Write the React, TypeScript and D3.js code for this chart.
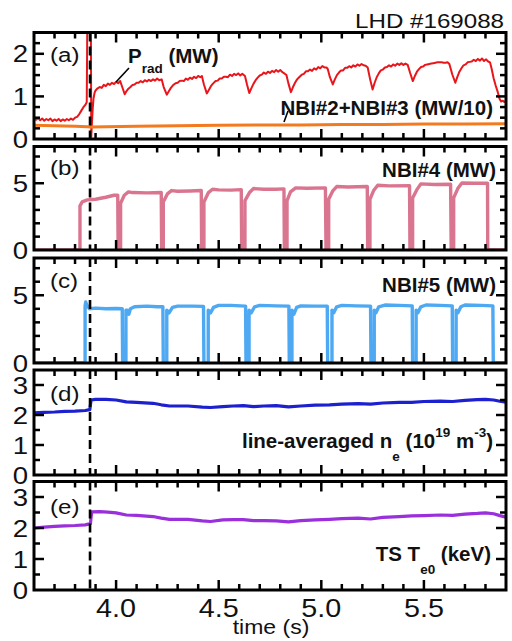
import * as d3 from 'd3';
import React from 'react';

// time axis
const timeDomain: [number, number] = [3.6, 5.9];
const xMajorTicks = [4.0, 4.5, 5.0, 5.5];
const xTickLabels = ['4.0', '4.5', '5.0', '5.5'];
const dashTime = 3.873;
const panelLabels = ['(a)', '(b)', '(c)', '(d)', '(e)'];

// (a) radiated power (MW)
const pradSeries: [number, number][] = [
  [3.600, 0.50], [3.610, 0.45], [3.620, 0.49], [3.630, 0.44], [3.640, 0.48], [3.650, 0.43], [3.660, 0.47],
  [3.670, 0.44], [3.680, 0.48], [3.690, 0.42], [3.700, 0.46], [3.710, 0.43], [3.720, 0.47], [3.730, 0.42],
  [3.740, 0.46], [3.750, 0.43], [3.760, 0.47], [3.770, 0.44], [3.780, 0.48], [3.790, 0.45], [3.800, 0.50],
  [3.810, 0.52], [3.820, 0.58], [3.830, 0.66], [3.840, 0.74], [3.850, 0.80], [3.857, 0.86], [3.860, 2.9],
  [3.877, 2.9], [3.879, 0.05], [3.882, 0.35], [3.886, 0.70], [3.890, 0.95], [3.895, 1.08], [3.900, 1.14],
  [3.910, 1.19], [3.920, 1.22], [3.930, 1.20], [3.940, 1.27], [3.950, 1.24], [3.960, 1.30], [3.970, 1.27],
  [3.980, 1.32], [3.990, 1.29], [4.000, 1.34], [4.010, 1.31], [4.020, 1.36], [4.030, 1.22], [4.042, 1.05],
  [4.050, 1.12], [4.060, 1.18], [4.070, 1.22], [4.080, 1.27], [4.090, 1.28], [4.100, 1.32], [4.110, 1.32],
  [4.120, 1.36], [4.130, 1.33], [4.140, 1.38], [4.150, 1.35], [4.160, 1.39], [4.170, 1.36], [4.180, 1.40],
  [4.190, 1.37], [4.200, 1.42], [4.210, 1.38], [4.222, 1.40], [4.232, 1.22], [4.247, 1.04], [4.257, 1.12],
  [4.267, 1.20], [4.277, 1.26], [4.290, 1.31], [4.300, 1.32], [4.310, 1.36], [4.320, 1.37], [4.330, 1.36],
  [4.340, 1.42], [4.350, 1.39], [4.360, 1.44], [4.370, 1.41], [4.380, 1.46], [4.390, 1.43], [4.400, 1.48],
  [4.410, 1.45], [4.418, 1.48], [4.428, 1.28], [4.442, 1.07], [4.452, 1.15], [4.462, 1.24], [4.472, 1.30],
  [4.485, 1.36], [4.495, 1.37], [4.505, 1.42], [4.515, 1.42], [4.525, 1.46], [4.535, 1.46], [4.545, 1.45],
  [4.555, 1.51], [4.565, 1.48], [4.575, 1.53], [4.585, 1.50], [4.595, 1.54], [4.605, 1.49], [4.615, 1.53],
  [4.628, 1.48], [4.638, 1.28], [4.649, 1.08], [4.660, 1.20], [4.670, 1.30], [4.680, 1.38], [4.690, 1.44],
  [4.700, 1.49], [4.710, 1.51], [4.720, 1.56], [4.730, 1.53], [4.740, 1.58], [4.750, 1.55], [4.760, 1.60],
  [4.770, 1.57], [4.780, 1.62], [4.790, 1.58], [4.800, 1.62], [4.810, 1.57], [4.820, 1.54], [4.830, 1.50],
  [4.840, 1.30], [4.852, 1.10], [4.862, 1.22], [4.872, 1.32], [4.882, 1.40], [4.892, 1.45], [4.905, 1.51],
  [4.915, 1.53], [4.925, 1.59], [4.935, 1.59], [4.945, 1.63], [4.955, 1.60], [4.965, 1.66], [4.975, 1.63],
  [4.985, 1.69], [4.995, 1.66], [5.005, 1.71], [5.015, 1.68], [5.025, 1.68], [5.031, 1.65], [5.042, 1.45],
  [5.056, 1.28], [5.066, 1.40], [5.076, 1.50], [5.086, 1.56], [5.096, 1.61], [5.106, 1.61], [5.116, 1.67],
  [5.126, 1.67], [5.136, 1.71], [5.146, 1.68], [5.156, 1.73], [5.166, 1.70], [5.176, 1.75], [5.186, 1.72],
  [5.196, 1.76], [5.206, 1.73], [5.216, 1.72], [5.226, 1.68], [5.238, 1.40], [5.250, 1.16], [5.260, 1.32],
  [5.270, 1.45], [5.280, 1.54], [5.290, 1.61], [5.300, 1.63], [5.310, 1.68], [5.320, 1.69], [5.330, 1.73],
  [5.340, 1.70], [5.350, 1.75], [5.360, 1.72], [5.370, 1.77], [5.380, 1.74], [5.390, 1.78], [5.400, 1.74],
  [5.410, 1.77], [5.421, 1.74], [5.433, 1.55], [5.446, 1.36], [5.456, 1.48], [5.466, 1.58], [5.476, 1.64],
  [5.486, 1.69], [5.496, 1.70], [5.506, 1.74], [5.516, 1.75], [5.526, 1.76], [5.536, 1.77], [5.546, 1.78],
  [5.556, 1.79], [5.566, 1.80], [5.576, 1.80], [5.586, 1.80], [5.596, 1.79], [5.606, 1.79], [5.615, 1.80],
  [5.624, 1.76], [5.638, 1.52], [5.653, 1.32], [5.663, 1.46], [5.673, 1.58], [5.683, 1.66], [5.693, 1.73],
  [5.703, 1.75], [5.713, 1.80], [5.723, 1.81], [5.733, 1.82], [5.743, 1.86], [5.753, 1.83], [5.763, 1.88],
  [5.773, 1.84], [5.783, 1.89], [5.793, 1.83], [5.803, 1.87], [5.813, 1.82], [5.822, 1.80], [5.830, 1.65],
  [5.840, 1.42], [5.850, 1.25], [5.860, 1.10], [5.868, 0.95], [5.876, 0.88], [5.885, 0.90], [5.892, 0.87],
  [5.900, 0.89],
];

// (a) NBI#2+NBI#3 (MW/10)
const nbi23Series: [number, number][] = [
  [3.60, 0.32], [3.70, 0.31], [3.80, 0.30], [3.86, 0.29], [3.88, 0.28], [3.95, 0.29], [4.10, 0.30],
  [4.30, 0.31], [4.50, 0.32], [4.70, 0.33], [4.90, 0.33], [5.10, 0.34], [5.30, 0.34], [5.50, 0.35],
  [5.70, 0.35], [5.90, 0.36],
];

// (b) NBI#4 (MW)
const nbi4Series: [number, number][] = [
  [3.600, 0], [3.824, 0], [3.824, 3.3], [3.835, 3.6], [3.860, 3.75], [3.900, 3.8], [3.950, 3.95], [3.990, 4.1], [4.008, 4.1], [4.010, 0],
  [4.022, 0], [4.022, 3.5], [4.040, 4.1], [4.060, 4.35], [4.080, 4.3], [4.150, 4.28], [4.220, 4.3], [4.222, 0],
  [4.230, 0], [4.230, 3.6], [4.250, 4.2], [4.270, 4.45], [4.300, 4.4], [4.360, 4.42], [4.415, 4.45], [4.417, 0],
  [4.428, 0], [4.428, 3.6], [4.450, 4.3], [4.470, 4.55], [4.500, 4.5], [4.560, 4.48], [4.610, 4.52], [4.612, 0],
  [4.628, 0], [4.628, 3.7], [4.650, 4.3], [4.670, 4.6], [4.720, 4.55], [4.780, 4.55], [4.818, 4.58], [4.820, 0],
  [4.833, 0], [4.833, 3.7], [4.850, 4.35], [4.875, 4.65], [4.930, 4.62], [5.020, 4.65], [5.023, 0],
  [5.036, 0], [5.036, 3.8], [5.055, 4.4], [5.075, 4.75], [5.130, 4.72], [5.224, 4.75], [5.226, 0],
  [5.237, 0], [5.237, 3.8], [5.255, 4.45], [5.275, 4.85], [5.330, 4.8], [5.430, 4.82], [5.432, 0],
  [5.445, 0], [5.445, 3.9], [5.465, 4.5], [5.485, 4.95], [5.550, 4.9], [5.630, 4.92], [5.633, 0],
  [5.645, 0], [5.645, 3.9], [5.665, 4.6], [5.685, 5.02], [5.750, 5.0], [5.810, 5.0], [5.811, 0], [5.900, 0],
];

// (c) NBI#5 (MW)
const nbi5Series: [number, number][] = [
  [3.600, 0], [3.849, 0], [3.849, 4.2], [3.852, 4.5], [3.860, 4.2], [3.870, 4.0], [3.900, 4.05], [3.950, 4.0], [4.000, 4.02], [4.030, 4.0], [4.032, 0],
  [4.048, 0], [4.048, 3.9], [4.055, 3.9], [4.062, 3.6], [4.070, 4.0], [4.090, 4.15], [4.150, 4.2], [4.200, 4.15], [4.228, 4.15], [4.230, 0],
  [4.247, 0], [4.247, 3.9], [4.258, 3.7], [4.275, 4.1], [4.300, 4.2], [4.370, 4.2], [4.426, 4.18], [4.428, 0],
  [4.449, 0], [4.449, 3.9], [4.460, 3.7], [4.475, 4.1], [4.500, 4.25], [4.560, 4.25], [4.631, 4.2], [4.633, 0],
  [4.648, 0], [4.648, 3.9], [4.658, 3.7], [4.675, 4.15], [4.700, 4.25], [4.780, 4.22], [4.842, 4.2], [4.844, 0],
  [4.857, 0], [4.857, 3.9], [4.866, 3.6], [4.880, 4.1], [4.900, 4.22], [4.970, 4.2], [5.029, 4.2], [5.031, 0],
  [5.052, 0], [5.052, 3.9], [5.060, 3.7], [5.075, 4.15], [5.100, 4.25], [5.170, 4.22], [5.240, 4.2], [5.242, 0],
  [5.258, 0], [5.258, 3.9], [5.266, 3.7], [5.280, 4.15], [5.310, 4.28], [5.380, 4.25], [5.443, 4.22], [5.445, 0],
  [5.462, 0], [5.462, 3.9], [5.470, 3.7], [5.485, 4.15], [5.510, 4.28], [5.580, 4.25], [5.638, 4.22], [5.640, 0],
  [5.657, 0], [5.657, 3.9], [5.665, 3.7], [5.680, 4.15], [5.700, 4.28], [5.780, 4.25], [5.836, 4.22], [5.838, 0], [5.900, 0],
];

// (d) line-averaged density (1e19 m^-3)
const neSeries: [number, number][] = [
  [3.60, 2.07], [3.65, 2.09], [3.70, 2.10], [3.75, 2.12], [3.80, 2.13], [3.85, 2.15], [3.872, 2.18], [3.878, 2.50],
  [3.90, 2.52], [3.95, 2.52], [4.00, 2.50], [4.05, 2.44], [4.10, 2.42], [4.18, 2.39], [4.22, 2.34], [4.26, 2.30],
  [4.35, 2.30], [4.42, 2.26], [4.46, 2.25], [4.52, 2.28], [4.57, 2.30], [4.62, 2.31], [4.67, 2.28], [4.72, 2.30],
  [4.78, 2.31], [4.84, 2.27], [4.90, 2.30], [4.97, 2.33], [5.04, 2.34], [5.10, 2.36], [5.18, 2.38], [5.24, 2.36],
  [5.30, 2.40], [5.38, 2.42], [5.44, 2.42], [5.50, 2.45], [5.58, 2.46], [5.64, 2.45], [5.70, 2.49], [5.76, 2.51],
  [5.80, 2.52], [5.84, 2.50], [5.87, 2.46], [5.90, 2.43],
];

// (e) Thomson central Te (keV)
const teSeries: [number, number][] = [
  [3.60, 2.00], [3.65, 2.03], [3.70, 2.05], [3.75, 2.07], [3.80, 2.08], [3.85, 2.10], [3.875, 2.14], [3.881, 2.52],
  [3.92, 2.53], [3.96, 2.51], [4.00, 2.49], [4.05, 2.42], [4.10, 2.41], [4.18, 2.37], [4.22, 2.32], [4.26, 2.28],
  [4.35, 2.28], [4.42, 2.23], [4.46, 2.21], [4.52, 2.26], [4.57, 2.27], [4.62, 2.27], [4.67, 2.24], [4.72, 2.24],
  [4.78, 2.23], [4.84, 2.20], [4.90, 2.24], [4.97, 2.26], [5.04, 2.28], [5.10, 2.30], [5.18, 2.32], [5.24, 2.29],
  [5.30, 2.34], [5.38, 2.37], [5.44, 2.39], [5.50, 2.40], [5.58, 2.42], [5.64, 2.41], [5.70, 2.45], [5.76, 2.47],
  [5.80, 2.49], [5.84, 2.46], [5.87, 2.40], [5.90, 2.35],
];

const FONT = 'Liberation Sans, Arial, Helvetica, sans-serif';
const W = 512, H = 641;

const panels = [
  { top: 32.5, bottom: 139, yMax: 2.5, major: [0, 1, 2], minorStep: 0.25, labelY: 62 },
  { top: 146.5, bottom: 250, yMax: 7.75, major: [0, 5], minorStep: 1, labelY: 175 },
  { top: 258, bottom: 363, yMax: 7.75, major: [0, 5], minorStep: 1, labelY: 288 },
  { top: 370, bottom: 475, yMax: 3.5, major: [0, 1, 2, 3], minorStep: 0.5, labelY: 401 },
  { top: 481.5, bottom: 590, yMax: 3.5, major: [0, 1, 2, 3], minorStep: 0.5, labelY: 514 },
];

const series = [
  [{ data: pradSeries, color: '#e8161b', width: 2 }, { data: nbi23Series, color: '#f47a20', width: 3 }],
  [{ data: nbi4Series, color: '#da7590', width: 3.4 }],
  [{ data: nbi5Series, color: '#4ea9f2', width: 3.4 }],
  [{ data: neSeries, color: '#1c20cf', width: 3.2 }],
  [{ data: teSeries, color: '#9a2fdc', width: 3.2 }],
];

// regular text in the figure is a bit wider than Arial
function WideText({ x, y, anchor = 'start', size, children }: any) {
  return (
    <text transform={`translate(${x},${y}) scale(1.15,1)`} textAnchor={anchor}
      fontSize={size} fontFamily={FONT} fill="#111">
      {children}
    </text>
  );
}

export default function App() {
  const x = d3.scaleLinear().domain(timeDomain).range([34, 506]);
  const xMinor = d3.range(37, 59).map(i => i / 10).filter(t => !xMajorTicks.some(m => Math.abs(m - t) < 1e-6));
  const left = x.range()[0], right = x.range()[1];

  return (
    <svg width={W} height={H} style={{ position: 'absolute', left: 0, top: 0, background: '#fff' }}>
      <rect width={W} height={H} fill="#fff" />
      <defs>
        {panels.map((p, i) => (
          <clipPath id={`clip${i}`} key={i}>
            <rect x={left} y={p.top} width={right - left} height={p.bottom - p.top} />
          </clipPath>
        ))}
      </defs>

      {panels.map((p, i) => {
        const y = d3.scaleLinear().domain([0, p.yMax]).range([p.bottom, p.top]);
        const line = d3.line<[number, number]>().x(d => x(d[0])).y(d => y(d[1]));
        const minor = d3.range(p.minorStep, p.yMax - 1e-6, p.minorStep)
          .filter(v => !p.major.some(m => Math.abs(m - v) < 1e-6));
        return (
          <g key={i}>
            <g clipPath={`url(#clip${i})`}>
              {series[i].map((s, j) => (
                <path key={j} d={line(s.data) || ''} fill="none" stroke={s.color}
                  strokeWidth={s.width} strokeLinejoin="round" />
              ))}
            </g>
            {/* dashed time marker */}
            <line x1={x(dashTime)} x2={x(dashTime)} y1={p.top} y2={p.bottom}
              stroke="#000" strokeWidth={2.6} strokeDasharray="9,5" />
            {/* y ticks left and right */}
            {p.major.filter(v => v > 0).map(v => (
              <g key={'M' + v}>
                <line x1={left} x2={left + 10} y1={y(v)} y2={y(v)} stroke="#000" strokeWidth={2.5} />
                <line x1={right} x2={right - 10} y1={y(v)} y2={y(v)} stroke="#000" strokeWidth={2.5} />
              </g>
            ))}
            {minor.map(v => (
              <g key={'m' + v}>
                <line x1={left} x2={left + 6} y1={y(v)} y2={y(v)} stroke="#000" strokeWidth={2.5} />
                <line x1={right} x2={right - 6} y1={y(v)} y2={y(v)} stroke="#000" strokeWidth={2.5} />
              </g>
            ))}
            {/* x ticks top and bottom */}
            {xMajorTicks.map(t => (
              <g key={'X' + t}>
                <line x1={x(t)} x2={x(t)} y1={p.bottom} y2={p.bottom - 10} stroke="#000" strokeWidth={2.5} />
                <line x1={x(t)} x2={x(t)} y1={p.top} y2={p.top + 10} stroke="#000" strokeWidth={2.5} />
              </g>
            ))}
            {xMinor.map(t => (
              <g key={'x' + t}>
                <line x1={x(t)} x2={x(t)} y1={p.bottom} y2={p.bottom - 6} stroke="#000" strokeWidth={2.5} />
                <line x1={x(t)} x2={x(t)} y1={p.top} y2={p.top + 6} stroke="#000" strokeWidth={2.5} />
              </g>
            ))}
            <rect x={left} y={p.top} width={right - left} height={p.bottom - p.top}
              fill="none" stroke="#000" strokeWidth={3} />
            {p.major.map(v => (
              <WideText key={'l' + v} x={28} y={y(v) + 8.5} anchor="end" size={24}>{v}</WideText>
            ))}
            <WideText x={50} y={p.labelY} size={21}>{panelLabels[i]}</WideText>
          </g>
        );
      })}

      {/* x tick labels */}
      {xMajorTicks.map((t, i) => (
        <WideText key={t} x={x(t)} y={617} anchor="middle" size={25}>{xTickLabels[i]}</WideText>
      ))}
      <WideText x={271} y={634} anchor="middle" size={20}>time (s)</WideText>
      <WideText x={504} y={28} anchor="end" size={21}>LHD #169088</WideText>

      {/* annotations */}
      <g fontFamily={FONT} fontWeight="bold" fill="#111" fontSize={20.5}>
        <text x={128} y={63}>P<tspan fontSize={13.5} dy={10}>rad</tspan><tspan dy={-10}> (MW)</tspan></text>
        <line x1={129} y1={68} x2={116} y2={82} stroke="#000" strokeWidth={1.6} />
        <text x={493} y={115} textAnchor="end">NBI#2+NBI#3 (MW/10)</text>
        <line x1={288} y1={111} x2={284} y2={122} stroke="#000" strokeWidth={1.6} />
        <text x={496} y={177} textAnchor="end">NBI#4 (MW)</text>
        <text x={496} y={292} textAnchor="end">NBI#5 (MW)</text>
        <text x={493} y={448} textAnchor="end">
          line-averaged n<tspan fontSize={13.5} dy={13}>e</tspan>
          <tspan dy={-13}> (10</tspan><tspan fontSize={13.5} dy={-11}>19</tspan>
          <tspan dy={11}> m</tspan><tspan fontSize={13.5} dy={-11}>-3</tspan>
          <tspan dy={11}>)</tspan>
        </text>
        <text x={491} y={561} textAnchor="end">
          TS T<tspan fontSize={13.5} dy={13}>e0</tspan><tspan dy={-13}> (keV)</tspan>
        </text>
      </g>
    </svg>
  );
}
